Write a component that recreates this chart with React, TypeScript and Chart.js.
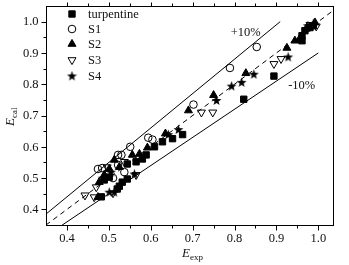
import React, { useEffect, useRef } from 'react';
import { Chart, registerables } from 'chart.js';

Chart.register(...registerables);

// [Eexp, Ecal]
const turpentine: [number, number][] = [
  [0.961, 0.939], [0.894, 0.826], [0.822, 0.752], [0.676, 0.639], [0.652, 0.626],
  [0.628, 0.616], [0.609, 0.600], [0.589, 0.574], [0.580, 0.561], [0.565, 0.552],
  [0.544, 0.545], [0.544, 0.497], [0.532, 0.487], [0.525, 0.474], [0.520, 0.465],
  [0.489, 0.494], [0.501, 0.503], [0.968, 0.971], [0.980, 0.981], [0.988, 0.987],
  [0.961, 0.955], [0.482, 0.440],
];
const s1: [number, number][] = [
  [0.853, 0.919], [0.789, 0.852], [0.702, 0.735], [0.594, 0.629], [0.604, 0.623],
  [0.551, 0.600], [0.522, 0.574], [0.530, 0.574], [0.474, 0.529], [0.484, 0.532],
  [0.510, 0.500], [0.522, 0.542], [0.496, 0.513], [0.537, 0.519],
];
const s2: [number, number][] = [
  [0.925, 0.916], [0.944, 0.939], [0.954, 0.942], [0.827, 0.835], [0.750, 0.765],
  [0.690, 0.716], [0.635, 0.642], [0.592, 0.597], [0.573, 0.577], [0.556, 0.574],
  [0.513, 0.558], [0.501, 0.529], [0.474, 0.439], [0.489, 0.510], [0.525, 0.535],
  [0.980, 0.984], [0.992, 0.997], [0.971, 0.977], [0.477, 0.487],
];
const s3: [number, number][] = [
  [0.995, 0.985], [0.911, 0.881], [0.894, 0.865], [0.721, 0.710], [0.748, 0.710],
  [0.565, 0.510], [0.510, 0.452], [0.470, 0.471], [0.443, 0.445], [0.465, 0.439],
  [0.537, 0.552], [0.496, 0.535], [0.980, 0.990],
];
const s4: [number, number][] = [
  [0.928, 0.887], [0.846, 0.832], [0.817, 0.806], [0.793, 0.794], [0.757, 0.748],
  [0.666, 0.655], [0.642, 0.639], [0.561, 0.513], [0.501, 0.455], [0.513, 0.455],
  [0.486, 0.500], [0.505, 0.519], [0.975, 0.987], [0.988, 0.994],
];

const seriesNames = ['turpentine', 'S1', 'S2', 'S3', 'S4'];
const xTicks = [0.4, 0.5, 0.6, 0.7, 0.8, 0.9, 1.0];
const yTicks = [0.4, 0.5, 0.6, 0.7, 0.8, 0.9, 1.0];
const xMinor = [0.45, 0.55, 0.65, 0.75, 0.85, 0.95];
const yMinor = [0.45, 0.55, 0.65, 0.75, 0.85, 0.95];
const parityLine: [number, number][] = [[0.35, 0.35], [1.05, 1.05]];
const plusLine: [number, number][] = [[0.35, 0.385], [0.909, 1.0]];
const minusLine: [number, number][] = [[0.35, 0.315], [1.0, 0.9]];

const FONT = "'Liberation Serif', 'Times New Roman', serif";
const TXT = '#111';

function makeStar(): HTMLCanvasElement {
  const c = document.createElement('canvas');
  c.width = 11;
  c.height = 11;
  const g = c.getContext('2d')!;
  g.fillStyle = '#000';
  g.beginPath();
  const cx = 5.5, cy = 5.8, ro = 5.2, ri = 2.1;
  for (let i = 0; i < 10; i++) {
    const r = i % 2 === 0 ? ro : ri;
    const a = -Math.PI / 2 + (i * Math.PI) / 5;
    const px = cx + r * Math.cos(a);
    const py = cy + r * Math.sin(a);
    if (i === 0) g.moveTo(px, py); else g.lineTo(px, py);
  }
  g.closePath();
  g.fill();
  return c;
}

function drawShape(ctx: CanvasRenderingContext2D, kind: string, r: number, fill: boolean, rot: number, x: number, y: number) {
  ctx.save();
  ctx.fillStyle = fill ? '#000' : 'rgba(0,0,0,0)';
  ctx.strokeStyle = '#000';
  ctx.lineWidth = 1;
  ctx.beginPath();
  if (kind === 'rect') {
    const s = Math.SQRT1_2 * r;
    ctx.rect(x - s, y - s, 2 * s, 2 * s);
  } else if (kind === 'circle') {
    ctx.arc(x, y, r, 0, Math.PI * 2);
  } else {
    let a = (rot * Math.PI) / 180;
    for (let i = 0; i < 3; i++) {
      const px = x + Math.sin(a) * r;
      const py = y - Math.cos(a) * r;
      if (i === 0) ctx.moveTo(px, py); else ctx.lineTo(px, py);
      a += (2 * Math.PI) / 3;
    }
    ctx.closePath();
  }
  if (fill) ctx.fill();
  ctx.stroke();
  ctx.restore();
}

const toPts = (a: [number, number][]) => a.map(([x, y]) => ({ x, y }));

export default function App() {
  const ref = useRef<HTMLCanvasElement>(null);
  useEffect(() => {
    document.body.style.margin = '0';
    const star = makeStar();
    const styles: any[] = [
      { pointStyle: 'rect', radius: 4.5, fill: true, rotation: 0 },
      { pointStyle: 'circle', radius: 3.8, fill: false, rotation: 0 },
      { pointStyle: 'triangle', radius: 4.6, fill: true, rotation: 0 },
      { pointStyle: 'triangle', radius: 4.6, fill: false, rotation: 180 },
      { pointStyle: star, radius: 5, fill: true, rotation: 0 },
    ];
    const sets = [turpentine, s1, s2, s3, s4];
    const pointSets = sets.map((s, i) => ({
      type: 'scatter' as const,
      label: seriesNames[i],
      data: toPts(s),
      pointStyle: styles[i].pointStyle,
      pointRadius: styles[i].radius,
      pointRotation: styles[i].rotation,
      pointBackgroundColor: styles[i].fill ? '#000' : 'rgba(0,0,0,0)',
      pointBorderColor: '#000',
      pointBorderWidth: 1,
      showLine: false,
    }));
    const lineSet = (d: [number, number][], dash: number[]) => ({
      type: 'line' as const,
      data: toPts(d),
      borderColor: '#000',
      borderWidth: 1,
      borderDash: dash,
      pointRadius: 0,
      fill: false,
    });

    const decor = {
      id: 'decor',
      afterDraw(chart: any) {
        const { ctx, chartArea: a, scales } = chart;
        const x = scales.x, y = scales.y;
        ctx.save();
        ctx.strokeStyle = '#000';
        ctx.lineWidth = 1;
        const L = Math.round(a.left) + 0.5, R = Math.round(a.right) + 0.5;
        const T = Math.round(a.top) + 0.5, B = Math.round(a.bottom) + 0.5;
        ctx.strokeRect(L, T, R - L, B - T);
        ctx.beginPath();
        xTicks.forEach((v) => {
          const px = Math.round(x.getPixelForValue(v)) + 0.5;
          ctx.moveTo(px, B); ctx.lineTo(px, B + 5);
          ctx.moveTo(px, T); ctx.lineTo(px, T - 4);
        });
        xMinor.forEach((v) => {
          const px = Math.round(x.getPixelForValue(v)) + 0.5;
          ctx.moveTo(px, B); ctx.lineTo(px, B + 3);
          ctx.moveTo(px, T); ctx.lineTo(px, T - 3);
        });
        yTicks.forEach((v) => {
          const py = Math.round(y.getPixelForValue(v)) + 0.5;
          ctx.moveTo(L, py); ctx.lineTo(L - 5, py);
        });
        yMinor.forEach((v) => {
          const py = Math.round(y.getPixelForValue(v)) + 0.5;
          ctx.moveTo(L, py); ctx.lineTo(L - 3, py);
        });
        ctx.stroke();

        ctx.fillStyle = TXT;
        ctx.font = `12.5px ${FONT}`;
        ctx.textAlign = 'center';
        ctx.textBaseline = 'alphabetic';
        xTicks.forEach((v) => {
          ctx.fillText(v.toFixed(1), x.getPixelForValue(v), 242);
        });
        ctx.textAlign = 'right';
        ctx.textBaseline = 'middle';
        yTicks.forEach((v) => {
          ctx.fillText(v.toFixed(1), 38.5, y.getPixelForValue(v) + 0.5);
        });

        // axis titles
        ctx.textBaseline = 'alphabetic';
        ctx.textAlign = 'left';
        ctx.font = `italic 13px ${FONT}`;
        const eW = ctx.measureText('E').width;
        ctx.fillText('E', 182, 257);
        ctx.font = `9px ${FONT}`;
        ctx.fillText('exp', 182 + eW, 260);

        ctx.save();
        ctx.translate(14, 126);
        ctx.rotate(-Math.PI / 2);
        ctx.font = `italic 13px ${FONT}`;
        ctx.fillText('E', 0, 0);
        ctx.font = `9px ${FONT}`;
        ctx.fillText('cal', eW, 3);
        ctx.restore();

        // line labels
        ctx.font = `12.5px ${FONT}`;
        ctx.fillText('+10%', x.getPixelForValue(0.791), y.getPixelForValue(0.955));
        ctx.fillText('-10%', x.getPixelForValue(0.928), y.getPixelForValue(0.784));

        // legend
        const rows = [14, 29, 44, 60, 76];
        rows.forEach((ry, i) => {
          const st = styles[i];
          if (st.pointStyle === star) {
            ctx.drawImage(star, 72 - star.width / 2, ry - star.height / 2);
          } else {
            drawShape(ctx, st.pointStyle, st.radius, st.fill, st.rotation, 72, ry);
          }
          ctx.fillStyle = TXT;
          ctx.font = `12.5px ${FONT}`;
          ctx.textBaseline = 'middle';
          ctx.textAlign = 'left';
          ctx.fillText(seriesNames[i], 88, ry + 0.5);
        });
        ctx.restore();
      },
    };

    const chart = new Chart(ref.current!, {
      type: 'scatter',
      data: {
        datasets: [
          ...pointSets,
          lineSet(parityLine, [5, 4]),
          lineSet(plusLine, []),
          lineSet(minusLine, []),
        ] as any,
      },
      options: {
        animation: false,
        responsive: false,
        layout: { padding: { left: 0, right: 16, top: 5, bottom: 0 } },
        plugins: { legend: { display: false }, tooltip: { enabled: false } },
        scales: {
          x: {
            type: 'linear',
            min: 0.35,
            max: 1.035,
            grid: { display: false },
            border: { display: false },
            ticks: { display: false },
            afterFit: (s: any) => { s.height = 40; },
          },
          y: {
            type: 'linear',
            min: 0.35,
            max: 1.05,
            grid: { display: false },
            border: { display: false },
            ticks: { display: false },
            afterFit: (s: any) => { s.width = 46; },
          },
        },
      },
      plugins: [decor],
    });
    return () => chart.destroy();
  }, []);
  return <canvas ref={ref} width={349} height={265} style={{ display: 'block' }} />;
}
